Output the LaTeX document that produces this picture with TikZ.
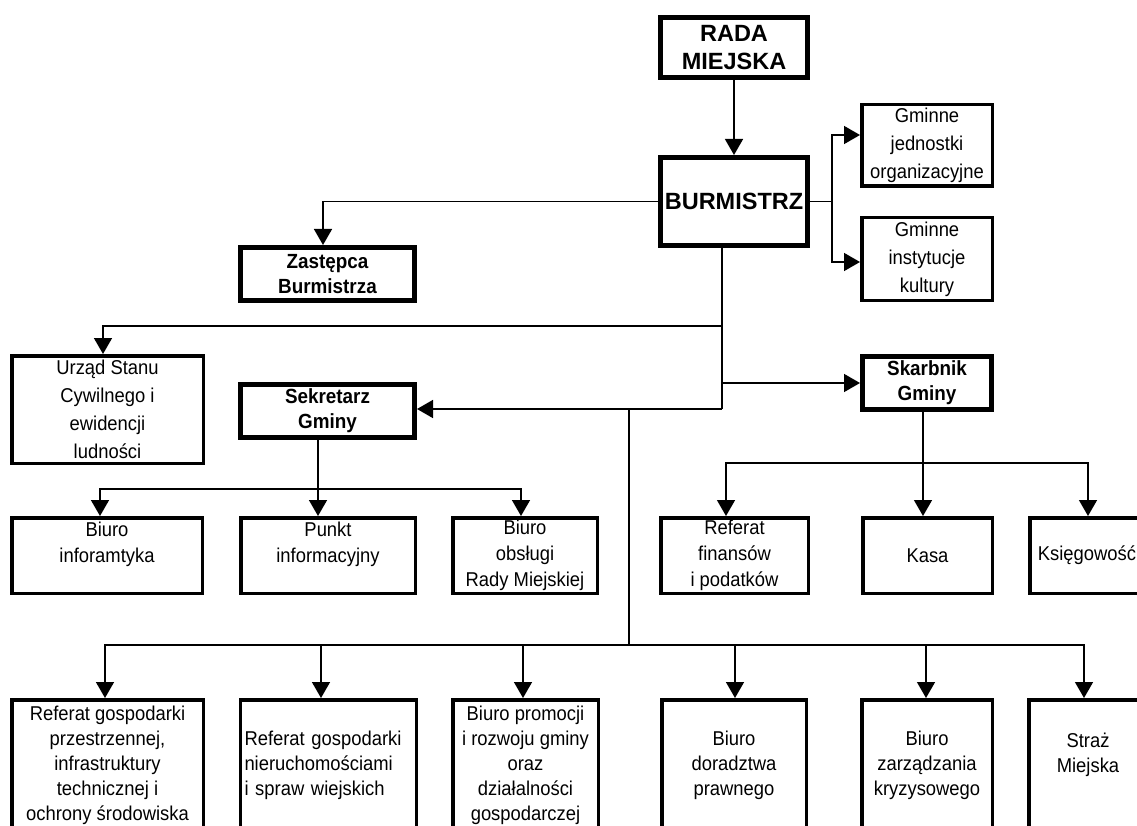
\documentclass[tikz,border=0pt]{standalone}
\usepackage{fontspec}
\setmainfont{Liberation Sans}[FakeStretch=0.92]
\newfontfamily\bigsans{Liberation Sans}
\usepackage{tikz}
\usetikzlibrary{
	arrows.meta,
	calc,
	positioning,
}
\tikzset{unit box/.style={draw,line width=3.5pt,inner sep=0pt,align=center,font=\fontsize{20}{26}\selectfont,}}
\tikzset{wide box/.style={unit box,font=\fontsize{20}{28}\selectfont,}}
\tikzset{low box/.style={unit box,font=\fontsize{20}{25}\selectfont,minimum height=130.5pt,}}
\tikzset{head box/.style={unit box,line width=5pt,font=\fontsize{20.5}{25}\selectfont\bfseries,}}
\tikzset{top box/.style={head box,font=\bigsans\fontsize{23.5}{28}\selectfont\bfseries,}}
\tikzset{link/.style={line width=1.5pt}}
\tikzset{
	>={Triangle[length=16pt,width=18pt]},
}

\begin{document}
\begin{tikzpicture}[x=1pt,y=-1pt,link]
\useasboundingbox (0,0) rectangle (1137,826);
\clip (0,0) rectangle (1137,826);

\node[top box,minimum width=147pt,minimum height=60pt](rada) at (734,47.5){RADA\\MIEJSKA};
\node[top box,minimum width=147pt,minimum height=88pt](burm) at (734,201.5){BURMISTRZ};
\node[wide box,minimum width=130.5pt,minimum height=81.5pt](jedn) at (927,145.5){Gminne\\jednostki\\organizacyjne};
\node[wide box,minimum width=130.5pt,minimum height=82.5pt](inst) at (927,259){Gminne\\instytucje\\kultury};
\node[head box,minimum width=174pt,minimum height=53pt](zast) at (327.5,274){Zastępca\\Burmistrza};
\node[wide box,minimum width=191.5pt,minimum height=107.5pt](urzad) at (107.5,409.5){Urząd Stanu\\Cywilnego i\\ewidencji\\ludności};
\node[head box,minimum width=174pt,minimum height=53pt](sekr) at (327.5,411){Sekretarz\\Gminy};
\node[head box,minimum width=129pt,minimum height=53pt](skarb) at (927,383){Skarbnik\\Gminy};

\node[unit box,minimum width=190.5pt,minimum height=75.5pt](inf) at (107,555.5){Biuro\\inforamtyka\\~};
\node[unit box,minimum width=174.5pt,minimum height=75.5pt](punkt) at (328,555.5){Punkt\\informacyjny\\~};
\node[unit box,minimum width=144.5pt,minimum height=75.5pt](obsl) at (525,555.5){Biuro\\obsługi\\Rady Miejskiej};
\node[unit box,minimum width=147.5pt,minimum height=75.5pt](fin) at (734.5,555.5){Referat\\finansów\\i podatków};
\node[unit box,minimum width=129.5pt,minimum height=75.5pt](kasa) at (927.5,555.5){Kasa};
\node[unit box,minimum width=114.5pt,minimum height=75.5pt](ksieg) at (1087,555.5){Księgowość};

\node[low box,minimum width=191.5pt](przes) at (107.5,765){Referat gospodarki\\przestrzennej,\\infrastruktury\\technicznej i\\ochrony środowiska};
\node[low box,align=left,text width=168pt,inner xsep=4pt](nier) at (328.5,765){Referat gospodarki\\nieruchomościami\\i spraw wiejskich};
\node[low box,minimum width=145.5pt](prom) at (525.5,765){Biuro promocji\\i rozwoju gminy\\oraz\\działalności\\gospodarczej};
\node[low box,minimum width=144.5pt](praw) at (734,765){Biuro\\doradztwa\\prawnego};
\node[low box,minimum width=130.5pt](kryz) at (927,765){Biuro\\zarządzania\\kryzysowego};
\node[low box,minimum width=118.5pt](straz) at (1088,765){Straż\\Miejska\\~};

\coordinate (gj) at (832,201.5);
\coordinate (t1) at (722,326);
\coordinate (t2) at (722,383);
\coordinate (t3) at (722,409);
\coordinate (d0) at (629,409);
\coordinate (bus) at (629,645);
\coordinate (sb) at (318,489);
\coordinate (kb) at (923,463);

\draw[->] (rada) -- (burm);
\draw (burm.east) -- (gj);
\draw[->] (gj) |- ([yshift=10.5pt]jedn.west);
\draw[->] (gj) |- ([yshift=-3pt]inst.west);
\draw[->] (burm.west) -| ([xshift=-4.5pt]zast.north);

\draw (burm.south -| t3) -- (t3);
\draw[->] (t1) -| ([xshift=-4.5pt]urzad.north);
\draw[->] (t2) -- (skarb.west);
\draw[->] (t3) -- (sekr.east |- t3);
\draw (d0) -- (bus);

\draw (sekr.south -| sb) -- (sb);
\draw[->] (sb) -| ([xshift=-7pt]inf.north);
\draw[->] (sb) -- (punkt.north -| sb);
\draw[->] (sb) -| ([xshift=-4pt]obsl.north);

\draw (skarb.south -| kb) -- (kb);
\draw[->] (kb) -| ([xshift=-8.5pt]fin.north);
\draw[->] (kb) -- (kasa.north -| kb);
\draw[->] (kb) -| ([xshift=1pt]ksieg.north);

\draw[->] (bus) -| ([xshift=-2.5pt]przes.north);
\draw[->] (bus) -| ([xshift=-7.5pt]nier.north);
\draw[->] (bus) -| ([xshift=-2.5pt]prom.north);
\draw[->] (bus) -| ([xshift=1pt]praw.north);
\draw[->] (bus) -| ([xshift=-1pt]kryz.north);
\draw[->] (bus) -| ([xshift=-4pt]straz.north);
\end{tikzpicture}
\end{document}
